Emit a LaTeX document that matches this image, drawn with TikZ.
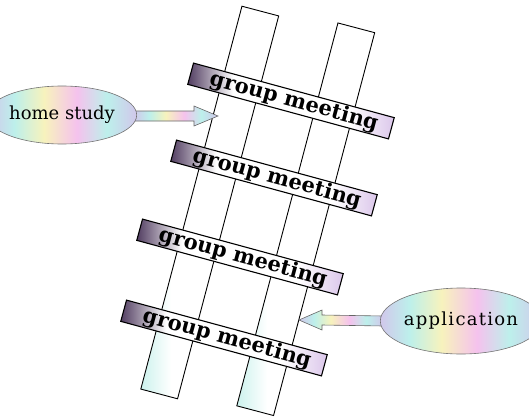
\documentclass[tikz,border=0pt]{standalone}
\usepackage{fontspec}
\setmainfont{DejaVu Serif}
\usetikzlibrary{shapes.geometric,calc}
\pgfdeclarelayer{railslayer}
\pgfdeclarelayer{arrowslayer}
\pgfsetlayers{railslayer,arrowslayer,main}
\definecolor{barL}{rgb}{0.32,0.24,0.38}
\definecolor{barR}{rgb}{0.86,0.78,0.92}
\definecolor{railL}{rgb}{0.80,0.95,0.93}
\definecolor{pa}{rgb}{0.82,0.78,0.92}
\definecolor{pb}{rgb}{0.74,0.94,0.92}
\definecolor{pc}{rgb}{0.97,0.95,0.74}
\definecolor{pd}{rgb}{0.96,0.76,0.93}
\pgfdeclarehorizontalshading{barshade}{100bp}{color(0bp)=(barL); color(25bp)=(barL); color(36bp)=(white); color(64bp)=(white); color(75bp)=(barR); color(100bp)=(barR)}
\pgfdeclarehorizontalshading{railshade}{100bp}{color(0bp)=(railL); color(25bp)=(railL); color(36bp)=(white); color(100bp)=(white)}
\pgfdeclarehorizontalshading{pastel}{100bp}{color(0bp)=(pa); color(25bp)=(pa); color(34bp)=(pb); color(44bp)=(pc); color(55bp)=(pd); color(65bp)=(pb); color(75bp)=(pa); color(100bp)=(pa)}
\tikzset{
  rail/.style={draw=black, line width=0.9pt, shading=railshade, minimum width=38pt, minimum height=396pt, inner sep=0pt, rotate=-14.8},
  bar/.style={draw=black, line width=1.1pt, shading=barshade, minimum width=208pt, minimum height=22pt, inner sep=0pt, rotate=-15.2, font=\bfseries\fontsize{21}{22}\selectfont},
  bubble/.style={ellipse, draw=black!55, line width=0.6pt, shading=pastel, inner sep=0pt, font=\fontsize{18}{20}\selectfont},
  fatarrow/.style={draw=black!60, line width=0.6pt, shading=pastel}
}
\begin{document}
\begin{tikzpicture}[x=1pt,y=-1pt]
\useasboundingbox (0,0) rectangle (529,417);
% rails
\begin{pgfonlayer}{railslayer}
\node[rail] (railL) at (209.75,202.5) {};
\node[rail] (railR) at (305.75,219.25) {};
\end{pgfonlayer}
% bars
\node[bar] (bar1) at (291,101) {\hspace{6pt}group meeting};
\node[bar] (bar2) at (274,178) {\hspace{6pt}group meeting};
\node[bar] (bar3) at (240,257) {\hspace{6pt}group meeting};
\node[bar] (bar4) at (224,338) {\hspace{6pt}group meeting};
% ellipses
\node[bubble, minimum width=120pt, minimum height=58pt] (hs) at (62,115) {home study};
\node[bubble, minimum width=140pt, minimum height=66pt] (app) at (461,321) {\addfontfeature{LetterSpace=7}application};
\coordinate (tipA) at (218,116);
\coordinate (tipB) at (299,320);
% arrows (behind the ellipses, above the rails)
\begin{pgfonlayer}{arrowslayer}
\draw[fatarrow] ($(hs.east)+(-3,-4)$) -- ($(tipA)+(-24,-5)$) -- ($(tipA)+(-24,-10)$) -- (tipA)
  -- ($(tipA)+(-24,10)$) -- ($(tipA)+(-24,5)$) -- ($(hs.east)+(-3,6)$) -- cycle;
\draw[fatarrow] ($(app.west)+(3,-5)$) -- ($(tipB)+(23,-5)$) -- ($(tipB)+(23,-10)$) -- (tipB)
  -- ($(tipB)+(23,10)$) -- ($(tipB)+(23,5)$) -- ($(app.west)+(3,5)$) -- cycle;
\end{pgfonlayer}
\end{tikzpicture}
\end{document}
